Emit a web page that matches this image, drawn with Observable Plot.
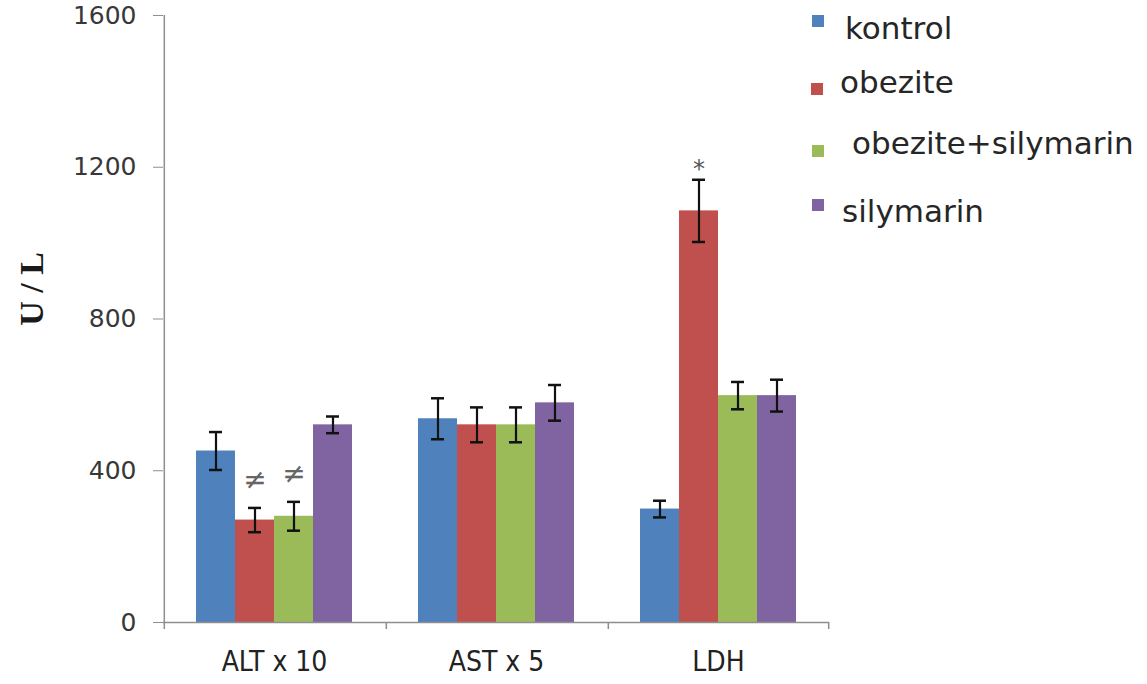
<!DOCTYPE html>
<html><head><meta charset="utf-8">
<script src="https://cdn.jsdelivr.net/npm/d3@7"></script>
<script src="https://cdn.jsdelivr.net/npm/@observablehq/plot@0.6"></script>
<style>
body{margin:0;background:#fff;}
#wrap{position:relative;width:1147px;height:684px;overflow:hidden;}
.li{position:absolute;font-family:"DejaVu Sans";font-size:31px;line-height:1;color:#262626;white-space:nowrap;}
.sw{position:absolute;width:12px;height:12px;}
</style></head><body><div id="wrap"></div>
<script>
// ---- data ----
const groups = ["ALT x 10", "AST x 5", "LDH"];
const series = ["kontrol", "obezite", "obezite+silymarin", "silymarin"];
const colors = ["#4F81BD", "#C0504D", "#9BBB59", "#8064A2"];
const kontrol = [452, 537, 299];
const kontrolErr = [50, 54, 22];
const obezite = [270, 521, 1085];
const obeziteErr = [32, 46, 82];
const obeziteSily = [280, 521, 598];
const obeziteSilyErr = [38, 46, 36];
const silymarin = [521, 579, 598];
const silymarinErr = [22, 47, 42];
const yTicks = [0, 400, 800, 1200, 1600];
const neqMarks = [
  {group: "ALT x 10", series: "obezite", label: "≠"},
  {group: "ALT x 10", series: "obezite+silymarin", label: "≠"}
];
const starMarks = [
  {group: "LDH", series: "obezite", label: "*"}
];

// ---- table ----
const vals = [kontrol, obezite, obeziteSily, silymarin];
const errs = [kontrolErr, obeziteErr, obeziteSilyErr, silymarinErr];
const data = [];
groups.forEach((g, gi) => series.forEach((s, si) => {
  data.push({group: g, series: s, value: vals[si][gi], err: errs[si][gi]});
}));
const upperOf = (d) => {
  const r = data.find(e => e.group === d.group && e.series === d.series);
  return r.value + r.err;
};

// ---- layout ----
const W = 1147, H = 684, mL = 162, mR = 317, mT = 15, mB = 62;
const padOuter = 0.8;
const facetW = (W - mL - mR) / groups.length;
const bw = facetW / (series.length + 2 * padOuter);
const edge = (padOuter + 0.5) * bw;
const axisGray = "#8e8e8e";

const chart = Plot.plot({
  width: W, height: H,
  marginLeft: mL, marginRight: mR, marginTop: mT, marginBottom: mB,
  style: {fontFamily: "DejaVu Sans", background: "white"},
  fx: {domain: groups, padding: 0, label: null},
  x: {domain: series, paddingInner: 0, paddingOuter: padOuter, axis: null},
  y: {domain: [0, 1600], axis: null},
  color: {domain: series, range: colors},
  marks: [
    Plot.barY(data, {fx: "group", x: "series", y: "value", fill: "series"}),
    Plot.ruleY([0], {stroke: axisGray, strokeWidth: 1.5}),
    Plot.ruleX([series[0]], {x: d => d, y1: 0, y2: 1600, dx: -edge, stroke: axisGray, strokeWidth: 1.5, facetAnchor: "left"}),
    Plot.ruleX(groups, {fx: d => d, x: () => series[0], y1: 0, y2: 0, dx: -edge, insetTop: 7, stroke: axisGray, strokeWidth: 1.5}),
    Plot.ruleX([groups[groups.length - 1]], {fx: d => d, x: () => series[series.length - 1], y1: 0, y2: 0, dx: edge, insetTop: 7, stroke: axisGray, strokeWidth: 1.5}),
    Plot.ruleX(data, {fx: "group", x: "series", y1: d => d.value - d.err, y2: d => d.value + d.err, stroke: "#111", strokeWidth: 2.2}),
    Plot.tickY(data, {fx: "group", x: "series", y: d => d.value - d.err, insetLeft: 13, insetRight: 13, stroke: "#111", strokeWidth: 2.5}),
    Plot.tickY(data, {fx: "group", x: "series", y: d => d.value + d.err, insetLeft: 13, insetRight: 13, stroke: "#111", strokeWidth: 2.5}),
    Plot.text(neqMarks, {fx: "group", x: "series", y: upperOf, text: "label", dy: -28, fontSize: 28, fill: "#666"}),
    Plot.text(starMarks, {fx: "group", x: "series", y: upperOf, text: "label", dy: -10, fontSize: 24, fill: "#555"}),
    Plot.axisY({ticks: yTicks, tickSize: 10, tickPadding: 17, fontSize: 25, stroke: axisGray, fill: "#383838", label: null, tickFormat: d => String(d)}),
    Plot.axisFx({anchor: "bottom", tickSize: 0, tickPadding: 29, fontSize: 28, fontFamily: "DejaVu Sans Condensed", fill: "#222", label: null}),
    Plot.text(["U / L"], {frameAnchor: "left", dx: -131, dy: -30, rotate: -90, textAnchor: "middle", fontSize: 34, fontWeight: "bold", fontFamily: "Liberation Serif", fill: "#1a1a1a", facetAnchor: "left"})
  ]
});
const wrap = document.getElementById("wrap");
wrap.appendChild(chart);

// ---- legend ----
const legendRows = [
  {sx: 812, sy: 15, tx: 845, ty: 13},
  {sx: 811, sy: 83, tx: 840, ty: 67},
  {sx: 812, sy: 145, tx: 852, ty: 128},
  {sx: 812, sy: 199, tx: 842, ty: 196}
];
series.forEach((s, i) => {
  const L = legendRows[i];
  const sw = document.createElement("div");
  sw.className = "sw";
  sw.style.left = L.sx + "px"; sw.style.top = L.sy + "px"; sw.style.background = colors[i];
  wrap.appendChild(sw);
  const t = document.createElement("div");
  t.className = "li";
  t.style.left = L.tx + "px"; t.style.top = L.ty + "px";
  t.textContent = s;
  wrap.appendChild(t);
});
</script></body></html>
